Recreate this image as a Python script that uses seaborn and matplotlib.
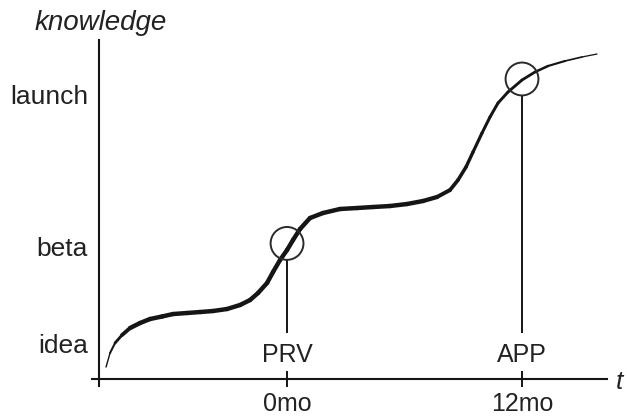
import numpy as np
import pandas as pd
import seaborn as sns
import matplotlib.pyplot as plt
from matplotlib.collections import LineCollection

# curve: months vs knowledge (0-100)
months = [-9.243, -9.038, -8.783, -8.426, -8.017, -7.507, -6.996, -6.383, -5.821, -5.106,
          -4.443, -3.779, -3.064, -2.400, -1.889, -1.481, -1.021, -0.715, -0.357, 0.0,
          0.306, 0.664, 1.174, 1.838, 2.706, 3.575, 4.392, 5.260, 6.128, 6.945,
          7.660, 8.324, 8.732, 9.141, 9.498, 9.958, 10.366, 10.775, 11.285, 12.0,
          12.664, 13.328, 14.196, 15.064, 15.830]
knowledge = [3.54, 7.67, 10.62, 12.98, 15.04, 16.52, 17.70, 18.44, 19.17, 19.47,
             19.76, 20.06, 20.65, 21.83, 23.30, 25.37, 28.32, 31.56, 35.10, 38.05,
             41.00, 44.25, 47.49, 48.97, 50.15, 50.44, 50.74, 51.03, 51.62, 52.51,
             53.69, 55.75, 58.70, 62.54, 66.96, 72.57, 77.29, 81.42, 84.66, 88.20,
             90.56, 92.33, 93.81, 94.99, 95.87]

stage_labels = ["idea", "beta", "launch"]
stage_levels = [10.6, 39.2, 83.8]

time_ticks = [0, 12]
time_labels = ["0mo", "12mo"]

# markers on the curve
mark_names = ["PRV", "APP"]
mark_x = [0, 12]
mark_y = [40.0, 88.5]
stem_top = [35.1, 83.5]
stem_bottom = 13.6
mark_text_y = 7.2

ink = "#151515"

sns.set_theme(style="white")
plt.rcParams["font.family"] = ["Liberation Sans", "DejaVu Sans"]

fig = plt.figure(figsize=(6.27, 4.17), dpi=100)
ax = fig.add_axes([92 / 627, 31 / 417, 515 / 627, 346 / 417])
ax.set_xlim(-9.96, 16.34)
ax.set_ylim(-2.06, 100)

df = pd.DataFrame({"month": months, "knowledge": knowledge})

# brush stroke: thin at the start, heavy through the middle, fading at the end
pts = df[["month", "knowledge"]].to_numpy()
segs = np.stack([pts[:-1], pts[1:]], axis=1)
mid = segs[:, :, 0].mean(axis=1)
widths = np.interp(mid, [-9.3, -8.0, 7.0, 10.0, 12.5, 15.8],
                   [0.7, 3.2, 3.2, 2.2, 2.0, 0.8])
lc = LineCollection(segs, linewidths=widths, colors=ink, capstyle="round",
                    joinstyle="round", zorder=3)
ax.add_collection(lc)

# circles and stems
sns.scatterplot(x=mark_x, y=mark_y, s=560, facecolor="none", edgecolor="#2a2a2a",
                linewidth=1.4, ax=ax, zorder=4, legend=False)
ax.vlines(mark_x, [stem_bottom] * 2, stem_top, color=ink, lw=1.4)
for name, x in zip(mark_names, mark_x):
    ax.text(x, mark_text_y, name, ha="center", va="center", fontsize=18, color="#222")

# axes styling
for side in ["top", "right"]:
    ax.spines[side].set_visible(False)
ax.spines["left"].set_position(("data", -9.6))
ax.spines["bottom"].set_position(("data", 0))
for side in ["left", "bottom"]:
    ax.spines[side].set_color(ink)
    ax.spines[side].set_linewidth(1.5)

ax.set_xticks(time_ticks)
ax.set_xticklabels(time_labels, fontsize=18, color="#222")
ax.tick_params(axis="x", direction="inout", length=11, width=1.4, color=ink, pad=4,
               bottom=True)
ax.set_yticks(stage_levels)
ax.set_yticklabels(stage_labels, fontsize=19, color="#222")
ax.tick_params(axis="y", length=0, pad=8)

fig.text(35 / 627, 1 - 30 / 417, "knowledge", style="italic", fontsize=20,
         color="#222", ha="left", va="baseline")
fig.text(616 / 627, 1 - 389 / 417, "t", style="italic", fontsize=19,
         color="#222", ha="left", va="baseline")

fig.savefig("out.png", dpi=100)
